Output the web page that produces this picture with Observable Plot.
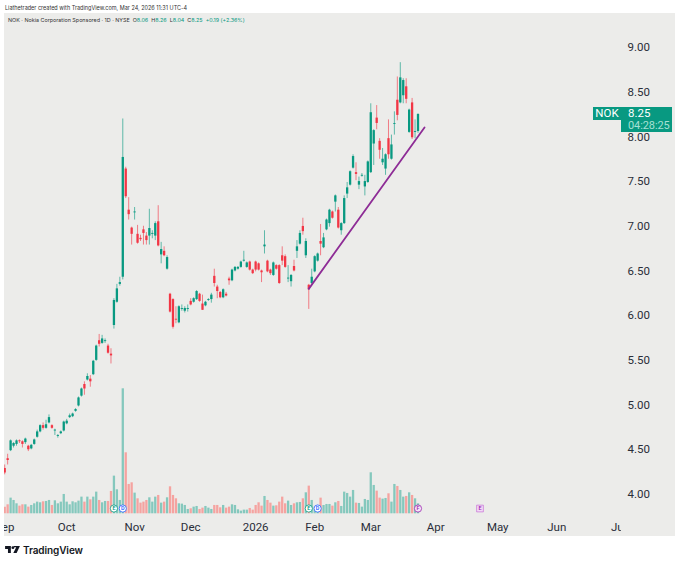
<!DOCTYPE html>
<html>
<head>
<meta charset="utf-8">
<script src="https://cdn.jsdelivr.net/npm/d3@7"></script>
<script src="https://cdn.jsdelivr.net/npm/@observablehq/plot@0.6"></script>
<style>
html,body{margin:0;padding:0;background:#fff;width:680px;height:564px;overflow:hidden;font-family:Inter,Roboto,sans-serif;color:#222}
#chart{position:absolute;left:4px;top:13px;line-height:0}
.hd{position:absolute;white-space:nowrap;z-index:2}
.g{color:#089981}
#tagA,#tagB{position:absolute;z-index:2;background:#089981;color:#fff;font-family:Roboto,sans-serif;font-size:11.5px;line-height:11px}
</style>
</head>
<body>
<div class="hd" style="left:5px;top:5px;font-size:5.5px;color:#333">Liathetrader created with TradingView.com, Mar 24, 2026 11:31 UTC-4</div>
<div class="hd" style="left:8px;top:17px;font-size:5.4px;color:#333">NOK · Nokia Corporation Sponsored · 1D · NYSE &nbsp;O<span class="g">8.06</span> &nbsp;H<span class="g">8.26</span> &nbsp;L<span class="g">8.04</span> &nbsp;C<span class="g">8.25</span> &nbsp;<span class="g">+0.19 (+2.36%)</span></div>
<div id="chart"></div>
<div id="tagA" style="left:593px;top:107px;width:28px;height:12.5px;text-align:center;padding-top:1px;box-sizing:border-box">NOK</div>
<div id="tagB" style="left:621px;top:107px;width:51px;height:25px;box-sizing:border-box"><div style="margin:1px 0 0 7px;height:11px">8.25</div><div style="margin:1px 0 0 7px;color:#a6e0d4;font-size:11px;height:11px;letter-spacing:-.1px">04:28:25</div></div>
<svg style="position:absolute;left:5px;top:546px" width="15" height="7" viewBox="0 0 36 17"><path fill="#131722" d="M0 0h14v17H7V7H0zM21 0h15l-8 17h-8l7-14h-6z"/><circle cx="19" cy="4" r="3.5" fill="#131722"/></svg>
<div class="hd" style="left:23px;top:543.5px;font-size:10px;font-weight:600;line-height:12px;color:#131722;letter-spacing:-.1px">TradingView</div>
<script>
const opens = [4.29,4.40,4.49,4.54,4.56,4.60,4.59,4.58,4.54,4.51,
4.56,4.64,4.70,4.77,4.74,4.80,4.77,4.71,4.65,4.68,
4.71,4.79,4.86,4.87,4.93,4.99,5.10,5.23,5.28,5.29,
5.34,5.50,5.72,5.69,5.71,5.66,5.57,5.89,6.15,6.35,
6.43,7.64,7.18,6.98,7.15,6.91,6.865,6.96,6.89,6.89,
6.91,6.89,7.05,6.68,6.72,6.52,6.24,6.18,5.96,5.92,
6.07,6.05,6.07,6.16,6.15,6.18,6.24,6.13,6.11,6.17,
6.18,6.44,6.32,6.26,6.20,6.24,6.41,6.39,6.50,6.52,
6.54,6.61,6.54,6.60,6.51,6.60,6.58,6.50,6.77,6.61,
6.51,6.45,6.56,6.56,6.67,6.66,6.41,6.38,6.55,6.72,
6.80,6.998,6.67,6.34,6.36,6.49,6.61,6.83,6.76,6.96,
7.03,7.16,7.27,7.18,6.95,7.03,7.36,7.46,7.65,7.60,
7.46,7.56,7.44,7.49,7.60,7.92,8.21,7.95,7.71,7.64,
7.98,7.75,8.14,8.41,8.38,8.46,8.56,8.05,8.38,8.05,
8.06];
const highs = [4.33,4.45,4.61,4.58,4.61,4.61,4.60,4.63,4.55,4.56,
4.62,4.72,4.78,4.80,4.83,4.89,4.78,4.73,4.67,4.71,
4.82,4.84,4.90,4.91,4.96,5.09,5.19,5.26,5.35,5.33,
5.50,5.67,5.79,5.78,5.74,5.68,5.63,6.19,6.35,6.43,
8.20,7.66,7.32,6.99,7.21,7.01,6.90,7.00,6.93,7.19,
6.95,7.05,7.23,6.82,6.77,6.67,6.25,6.19,6.10,6.11,
6.12,6.10,6.12,6.19,6.20,6.28,6.25,6.23,6.16,6.19,
6.25,6.52,6.34,6.27,6.30,6.26,6.43,6.52,6.55,6.55,
6.61,6.72,6.60,6.61,6.52,6.61,6.59,6.51,6.95,6.62,
6.52,6.60,6.57,6.57,6.77,6.68,6.56,6.46,6.62,6.84,
6.95,7.09,6.86,6.35,6.52,6.67,6.70,7.02,6.92,7.08,
7.19,7.17,7.35,7.21,7.04,7.34,7.49,7.62,7.80,7.71,
7.55,7.59,7.57,7.73,8.37,8.08,8.35,7.98,7.87,7.81,
8.19,8.02,8.28,8.67,8.83,8.65,8.65,8.31,8.43,8.19,
8.26];
const lows = [4.22,4.33,4.48,4.52,4.54,4.57,4.52,4.56,4.48,4.50,
4.55,4.63,4.69,4.72,4.73,4.79,4.73,4.66,4.63,4.67,
4.70,4.78,4.85,4.86,4.92,4.98,5.09,5.11,5.27,5.20,
5.33,5.49,5.65,5.68,5.69,5.57,5.46,5.85,6.14,6.33,
6.40,7.31,7.07,6.79,7.07,6.80,6.83,6.79,6.79,6.79,
6.86,6.84,6.77,6.58,6.66,6.51,6.03,5.85,5.91,5.91,
6.05,6.03,6.04,6.11,6.14,6.17,6.15,6.06,6.10,6.16,
6.14,6.32,6.19,6.19,6.19,6.21,6.34,6.38,6.49,6.51,
6.53,6.60,6.53,6.50,6.46,6.49,6.50,6.37,6.69,6.48,
6.45,6.44,6.51,6.35,6.56,6.53,6.37,6.32,6.49,6.64,
6.79,6.90,6.64,6.07,6.35,6.48,6.60,6.67,6.75,6.95,
6.99,7.08,7.16,6.97,6.90,7.02,7.31,7.45,7.64,7.51,
7.41,7.55,7.34,7.48,7.59,7.68,8.08,7.75,7.68,7.57,
7.75,7.74,8.02,8.18,8.37,8.37,8.37,8.04,7.97,7.98,
8.04];
const closes = [4.24,4.38,4.60,4.57,4.60,4.59,4.56,4.62,4.50,4.55,
4.61,4.70,4.77,4.74,4.78,4.86,4.74,4.72,4.66,4.70,
4.81,4.82,4.88,4.90,4.95,5.08,5.18,5.18,5.32,5.26,
5.49,5.66,5.68,5.74,5.72,5.58,5.55,6.17,6.30,6.37,
7.77,7.33,7.13,6.91,7.16,6.81,6.85,6.92,6.84,6.975,
6.92,7.03,6.78,6.74,6.67,6.65,6.04,5.87,5.95,6.10,
6.08,6.08,6.08,6.12,6.19,6.27,6.16,6.06,6.15,6.18,
6.23,6.36,6.27,6.20,6.29,6.22,6.39,6.51,6.54,6.54,
6.60,6.62,6.59,6.51,6.47,6.51,6.51,6.48,6.79,6.49,
6.47,6.59,6.52,6.36,6.61,6.54,6.42,6.45,6.50,6.77,
6.92,6.94,6.83,6.29,6.43,6.66,6.69,6.80,6.87,7.07,
7.18,7.09,7.34,6.98,7.03,7.31,7.43,7.61,7.78,7.58,
7.50,7.57,7.50,7.72,8.27,8.07,8.15,7.85,7.75,7.80,
7.80,7.91,8.15,8.24,8.66,8.63,8.42,8.30,7.99,8.06,
8.25];
const volumes = [10,13.5,23.5,20,15,11.5,13.5,13.5,10,12.5,
15,17.5,16.5,18,18.5,20,12.5,19.5,15,17.5,
29,17.5,13.5,18,16.5,19,25,17.5,25,21,
25,32.5,20,16.5,18.5,18.5,33.5,56.5,36,20,
187.5,91.5,44,46.5,31,22.5,16,17.5,20,24,
17.5,25,27.5,16,17.5,24,40.5,27.5,22.5,15,
14.5,12.5,6.5,7.5,10,11,6.5,8.5,11,8.5,
6.5,12.5,12.5,9,12.5,8.5,10,13.5,12.5,6,
4,5.5,5.5,8,5.5,12.5,16.5,11.5,26,20,
16,11.5,12,17.5,25,15,19,12.5,15,16.5,
17,22.5,31.5,41.5,20,10,12.5,23.5,12.5,14,
14,11.5,16.5,18.5,11,32.5,30.5,25,35,16,
15.5,10,21.5,20,61.5,42.5,34,23.5,22,23,
30,17.5,44,41,35,25,26,31.5,27.5,22.5,
15];
const monthLabels = ["Sep","Oct","Nov","Dec","2026","Feb","Mar","Apr","May","Jun","Jul"];
const monthBars = [0,21,44,63,85,105,124,146,167,187,208];
const priceTicks = [4,4.5,5,5.5,6,6.5,7,7.5,8,8.5,9];
const trendBars = [103,142.2];
const trendPrices = [6.30,8.105];
const eventBars = [37,40,103,106,140];
const eventLetters = ["E","D","E","D","F"];
const eventColors = ["#089981","#2962FF","#089981","#2962FF","#9C27B0"];
const futureEventBars = [161];
const futureEventLetters = ["E"];

const GREEN="#089981", RED="#F23645", VGREEN="#85C8BD", VRED="#F5A3A0", PURPLE="#8E2C96";
const volBase = 3.784, volUnit = 0.007457, eventLevel = 3.843;

const bars = opens.map((o,i)=>({i,o,h:highs[i],l:lows[i],c:closes[i],v:volumes[i],up:closes[i]>=o}));
const trend = trendBars.map((x,k)=>({x,y:trendPrices[k]}));
const events = eventBars.map((x,k)=>({x,t:eventLetters[k],col:eventColors[k]}));
const future = futureEventBars.map((x,k)=>({x,t:futureEventLetters[k]}));
const months = monthBars.map((x,k)=>({x,t:monthLabels[k]}));
const FONT = "Roboto, sans-serif";

const chart = Plot.plot({
  width:671, height:523,
  marginLeft:0, marginTop:0, marginBottom:0, marginRight:54,
  style:{background:"#ECECEA", fontFamily:FONT, overflow:"hidden"},
  x:{type:"linear", domain:[-0.068,208.93], axis:null},
  y:{type:"linear", domain:[3.530,9.380], axis:null},
  marks:[
    Plot.ruleX(bars,{x:"i",y1:()=>volBase,y2:d=>volBase+d.v*volUnit,stroke:d=>d.up?VGREEN:VRED,strokeWidth:2.3,clip:true}),
    Plot.ruleX(bars,{x:"i",y1:"l",y2:"h",stroke:d=>d.up?GREEN:RED,strokeWidth:1,strokeOpacity:.62,clip:true}),
    Plot.ruleX(bars,{x:"i",y1:"o",y2:"c",stroke:d=>d.up?GREEN:RED,strokeWidth:2.3,clip:true}),
    Plot.line(trend,{x:"x",y:"y",stroke:PURPLE,strokeWidth:1.8}),
    Plot.dot(events,{x:"x",y:()=>eventLevel,r:3.6,fill:d=>d.t==="F"?"#F5E6F7":"#fff",stroke:"col",strokeWidth:.8}),
    Plot.text(events,{x:"x",y:()=>eventLevel,text:"t",fill:"col",fontSize:5.5,fontWeight:600}),
    Plot.dot(future,{x:"x",y:()=>eventLevel,symbol:"square",r:3.8,fill:"#F3D9F7",stroke:"#C56FD6",strokeWidth:.7}),
    Plot.text(future,{x:"x",y:()=>eventLevel,text:"t",fill:"#9C27B0",fontSize:5.5,fontWeight:600}),
    Plot.text(months,{x:"x",text:"t",frameAnchor:"bottom",dy:-6,lineAnchor:"bottom",fontSize:11.5,fill:"#2a2e39",
      fontWeight:d=>d.t==="2026"?700:400,clip:true}),
    Plot.axisY({anchor:"right",ticks:priceTicks,tickFormat:d3.format(".2f"),tickSize:0,tickPadding:6,fontSize:11.5,fill:"#2a2e39",label:null})
  ]
});
document.getElementById("chart").appendChild(chart);
</script>
</body>
</html>
